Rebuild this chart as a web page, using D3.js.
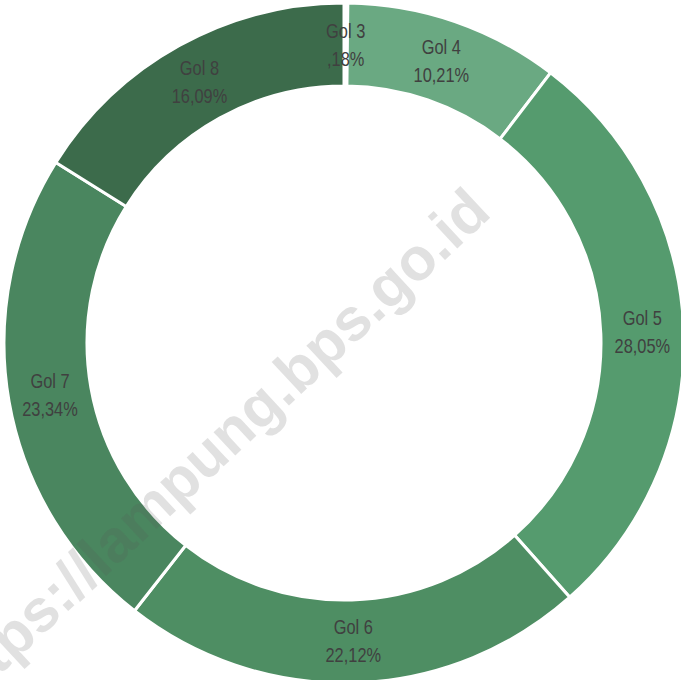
<!DOCTYPE html>
<html>
<head>
<meta charset="utf-8">
<script src="https://cdn.jsdelivr.net/npm/d3@7"></script>
<style>
  html, body { margin: 0; padding: 0; background: #fff; }
  svg { display: block; }
</style>
</head>
<body>
<div id="chart"></div>
<script>
// Data
const categories = ['Gol 3', 'Gol 4', 'Gol 5', 'Gol 6', 'Gol 7', 'Gol 8'];
const values = [0.18, 10.21, 28.05, 22.12, 23.34, 16.09];
const pctLabels = [',18%', '10,21%', '28,05%', '22,12%', '23,34%', '16,09%'];
const colors = ['#ffffff', '#6aa982', '#559b6e', '#4e8e63', '#4a865f', '#3c6b4b'];

const width = 681, height = 680;
const cx = 344, cy = 343;
const outerR = 340, innerR = 257;

const svg = d3.select('#chart')
  .append('svg')
  .attr('width', width)
  .attr('height', height);

const g = svg.append('g')
  .attr('transform', `translate(${cx},${cy})`);

const pie = d3.pie()
  .sort(null)
  .value(d => d);

const arc = d3.arc()
  .innerRadius(innerR)
  .outerRadius(outerR);

const labelArc = d3.arc()
  .innerRadius((innerR + outerR) / 2)
  .outerRadius((innerR + outerR) / 2);

const arcs = pie(values);

// Slices
g.selectAll('path.slice')
  .data(arcs)
  .enter()
  .append('path')
  .attr('class', 'slice')
  .attr('d', arc)
  .attr('fill', (d, i) => colors[i])
  .attr('stroke', '#fff')
  .attr('stroke-width', 3);

// Labels (condensed look via horizontal scale)
const labels = g.selectAll('g.label')
  .data(arcs)
  .enter()
  .append('g')
  .attr('class', 'label')
  .attr('transform', d => `translate(${labelArc.centroid(d)}) scale(0.82,1)`);

labels.each(function(d, i) {
  const lg = d3.select(this);
  lg.append('text')
    .attr('y', -7)
    .text(categories[i]);
  lg.append('text')
    .attr('y', 21)
    .text(pctLabels[i]);
});

labels.selectAll('text')
  .attr('text-anchor', 'middle')
  .style('font-family', '"Liberation Sans", Arial, sans-serif')
  .style('font-size', '20px')
  .style('fill', '#404040');

// Watermark
svg.append('text')
  .attr('transform', 'translate(225,465) rotate(-43)')
  .attr('text-anchor', 'middle')
  .style('font-family', '"Liberation Sans", Arial, sans-serif')
  .style('font-weight', 'bold')
  .style('font-size', '60px')
  .style('fill', 'rgba(90,90,90,0.18)')
  .text('https://lampung.bps.go.id');
</script>
</body>
</html>
